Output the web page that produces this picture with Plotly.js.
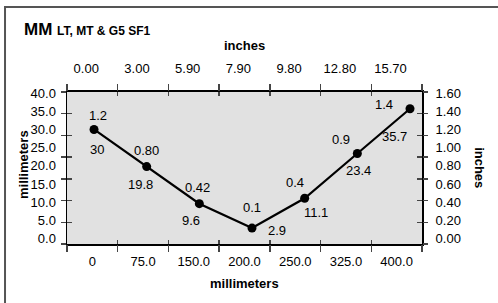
<!DOCTYPE html>
<html>
<head>
<meta charset="utf-8">
<script src="https://cdn.plot.ly/plotly-3.0.1.min.js"></script>
<style>html,body{margin:0;padding:0;background:#fff;}#chart{width:498px;height:303px;}</style>
</head>
<body>
<div id="chart"></div>
<script>
// ---- data ----
const mmCategories = ['0', '75.0', '150.0', '200.0', '250.0', '325.0', '400.0'];
const inchCategories = ['0.00', '3.00', '5.90', '7.90', '9.80', '12.80', '15.70'];
const mmValues = [30, 19.8, 9.6, 2.9, 11.1, 23.4, 35.7];
const inchValueLabels = ['1.2', '0.80', '0.42', '0.1', '0.4', '0.9', '1.4'];
const mmTickValues = [0, 5, 10, 15, 20, 25, 30, 35, 40];
const mmTickText = ['0.0', '5.0', '10.0', '15.0', '20.0', '25.0', '30.0', '35.0', '40.0'];
const inchTickValues = [0, 0.2, 0.4, 0.6, 0.8, 1.0, 1.2, 1.4, 1.6];
const inchTickText = ['0.00', '0.20', '0.40', '0.60', '0.80', '1.00', '1.20', '1.40', '1.60'];

// ---- styling (label offsets in px: [dx, dy] screen) ----
const inchLabelOffsets = [[4, -14], [0, -16], [-2, -16], [0, -21], [-10, -16], [-16, -14], [-26, -4]];
const mmLabelOffsets = [[3, 20], [-6, 18], [-8, 17], [25, 2], [11, 14], [1, 17], [-15, 28]];

const FONT = '"Liberation Sans Narrow", "Liberation Sans", Arial, sans-serif';
const BOLD = '"Liberation Sans", Arial, sans-serif';
const nCat = mmCategories.length;
const idx = mmCategories.map((_, i) => i);
const boundaries = Array.from({length: nCat + 1}, (_, i) => i);

const traces = [
  {
    x: idx, y: mmValues, type: 'scatter', mode: 'lines+markers',
    line: {color: '#000', width: 2.2},
    marker: {color: '#000', size: 9},
    xaxis: 'x', yaxis: 'y', hoverinfo: 'skip', showlegend: false
  }
];
// empty helper traces so that every helper axis is drawn
[['x2', 'y'], ['x3', 'y'], ['x4', 'y'], ['x5', 'y'], ['x', 'y2'], ['x', 'y3'], ['x', 'y4']].forEach(p => {
  traces.push({x: [], y: [], type: 'scatter', mode: 'markers', xaxis: p[0], yaxis: p[1], hoverinfo: 'skip', showlegend: false});
});

const tickAxisBase = {
  showgrid: false, zeroline: false, showline: false, showticklabels: false,
  tickcolor: '#444', tickwidth: 1.5, fixedrange: true
};

const annotations = [];
idx.forEach(i => {
  annotations.push({
    x: i, y: mmValues[i], xref: 'x', yref: 'y', text: inchValueLabels[i], showarrow: false,
    xshift: inchLabelOffsets[i][0], yshift: -inchLabelOffsets[i][1],
    font: {family: FONT, size: 13, color: '#000'}
  });
  annotations.push({
    x: i, y: mmValues[i], xref: 'x', yref: 'y', text: String(mmValues[i]), showarrow: false,
    xshift: mmLabelOffsets[i][0], yshift: -mmLabelOffsets[i][1],
    font: {family: FONT, size: 13, color: '#000'}
  });
});
annotations.push(
  {xref: 'paper', yref: 'paper', x: -0.127, y: 1.414, xanchor: 'left', yanchor: 'middle', showarrow: false,
   text: '<b>MM</b> <b><span style="font-size:12px">LT, MT &amp; G5 SF1</span></b>',
   font: {family: BOLD, size: 17, color: '#000'}},
  {xref: 'paper', yref: 'paper', x: 0.5, y: 1.309, xanchor: 'center', yanchor: 'middle', showarrow: false,
   text: '<b>inches</b>', font: {family: BOLD, size: 13, color: '#000'}},
  {xref: 'paper', yref: 'paper', x: 0.5, y: -0.257, xanchor: 'center', yanchor: 'middle', showarrow: false,
   text: '<b>millimeters</b>', font: {family: BOLD, size: 13, color: '#000'}},
  {xref: 'paper', yref: 'paper', x: -0.124, y: 0.526, xanchor: 'center', yanchor: 'middle', showarrow: false,
   textangle: -90, text: '<b>millimeters</b>', font: {family: BOLD, size: 13, color: '#000'}},
  {xref: 'paper', yref: 'paper', x: 1.163, y: 0.5, xanchor: 'center', yanchor: 'middle', showarrow: false,
   textangle: 90, text: '<b>inches</b>', font: {family: BOLD, size: 13, color: '#000'}}
);

const layout = {
  width: 498, height: 303,
  margin: {l: 67, r: 76, t: 92, b: 59, pad: 0},
  paper_bgcolor: '#fff', plot_bgcolor: '#e1e1e1',
  showlegend: false,
  font: {family: FONT, size: 13, color: '#000'},
  xaxis: {range: [-0.513, 6.228], showgrid: false, zeroline: false, showline: false, showticklabels: false, ticks: '', fixedrange: true},
  xaxis2: {overlaying: 'x', anchor: 'y', side: 'bottom', range: [0, nCat],
    tickmode: 'array', tickvals: idx.map(i => i + 0.5), ticktext: mmCategories,
    ticks: '', ticklabelstandoff: 4, showline: true, linecolor: '#000', linewidth: 2,
    showgrid: false, zeroline: false, fixedrange: true, tickfont: {family: FONT, size: 13}},
  xaxis3: {overlaying: 'x', anchor: 'y', side: 'top', range: [0, nCat],
    tickmode: 'array', tickvals: idx.map(i => i + 0.38), ticktext: inchCategories,
    ticks: '', ticklabelstandoff: 12, showline: true, linecolor: '#000', linewidth: 2,
    showgrid: false, zeroline: false, fixedrange: true, tickfont: {family: FONT, size: 13}},
  xaxis4: Object.assign({}, tickAxisBase, {overlaying: 'x', anchor: 'y', side: 'bottom', range: [0, nCat],
    tickmode: 'array', tickvals: boundaries, ticks: 'outside', ticklen: 7, mirror: 'ticks'}),
  xaxis5: Object.assign({}, tickAxisBase, {overlaying: 'x', anchor: 'y', side: 'bottom', range: [0, nCat],
    tickmode: 'array', tickvals: boundaries, ticks: 'inside', ticklen: 4, mirror: 'ticks'}),
  yaxis: {range: [-1.48, 40.3], side: 'left', tickmode: 'array', tickvals: mmTickValues, ticktext: mmTickText,
    ticks: '', ticklabelstandoff: 7, showline: true, linecolor: '#000', linewidth: 1.5,
    showgrid: false, zeroline: false, fixedrange: true, tickfont: {family: FONT, size: 13}},
  yaxis2: {overlaying: 'y', anchor: 'x', side: 'right', range: [-0.059, 1.611],
    tickmode: 'array', tickvals: inchTickValues, ticktext: inchTickText,
    ticks: '', ticklabelstandoff: 9, showline: true, linecolor: '#000', linewidth: 2,
    showgrid: false, zeroline: false, fixedrange: true, tickfont: {family: FONT, size: 13}},
  yaxis3: Object.assign({}, tickAxisBase, {overlaying: 'y', anchor: 'x', side: 'left', range: [0, nCat],
    tickmode: 'array', tickvals: boundaries, ticks: 'outside', ticklen: 5, mirror: 'ticks'}),
  yaxis4: Object.assign({}, tickAxisBase, {overlaying: 'y', anchor: 'x', side: 'left', range: [0, nCat],
    tickmode: 'array', tickvals: boundaries, ticks: 'inside', ticklen: 5, mirror: 'ticks'}),
  annotations: annotations,
  shapes: [
    {type: 'rect', xref: 'paper', yref: 'paper', x0: -0.1746, x1: 1.4, y0: -0.6, y1: 1.559,
     line: {color: '#555', width: 2}, fillcolor: 'rgba(0,0,0,0)', layer: 'below'}
  ]
};

Plotly.newPlot('chart', traces, layout, {displayModeBar: false, staticPlot: true});
</script>
</body>
</html>
